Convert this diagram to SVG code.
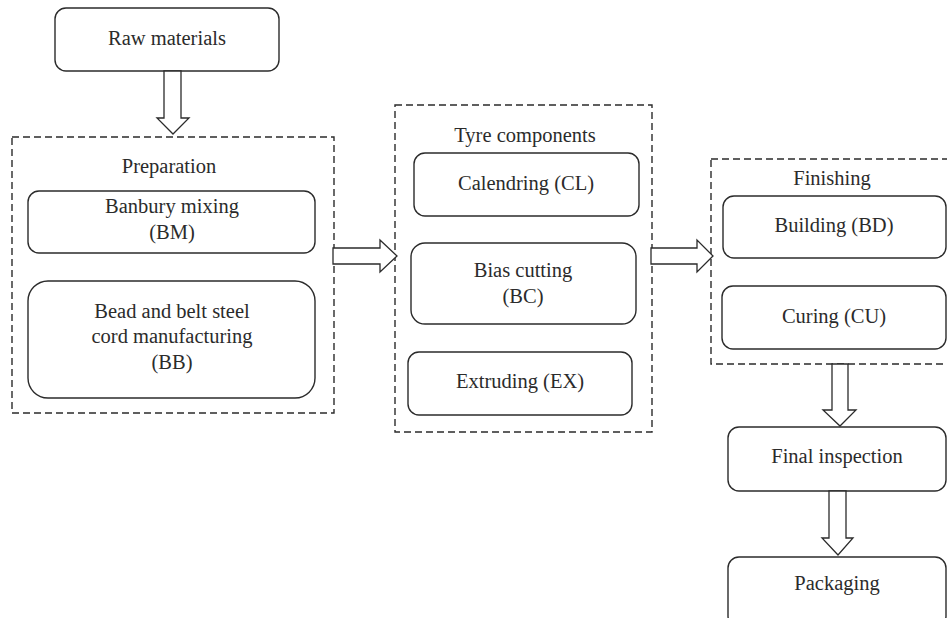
<svg xmlns="http://www.w3.org/2000/svg" width="947" height="618" viewBox="0 0 947 618">
<style>
.box{fill:#fff;stroke:#2b2b2b;stroke-width:1.4}
.grp{fill:none;stroke:#2b2b2b;stroke-width:1.4;stroke-dasharray:7 4}
.arr{fill:#fff;stroke:#2b2b2b;stroke-width:1.3;stroke-linejoin:miter}
.t{font-family:'Liberation Serif','DejaVu Serif',serif;font-size:20.5px;fill:#2b2b2b;text-anchor:middle}
</style>
<rect width="947" height="618" fill="#fff"/>
<g id="group-preparation">
<rect class="grp" x="12" y="137" width="322" height="276"/>
<text class="t" font-family="Liberation Serif, serif" x="169" y="173">Preparation</text>
</g>
<g id="group-tyre-components">
<rect class="grp" x="395" y="105" width="257" height="327"/>
<text class="t" font-family="Liberation Serif, serif" x="525" y="142">Tyre components</text>
</g>
<g id="group-finishing">
<rect class="grp" x="711" y="159" width="250" height="205"/>
<text class="t" font-family="Liberation Serif, serif" x="832" y="185">Finishing</text>
</g>
<g id="node-raw">
<rect class="box" x="55" y="8" width="224" height="63" rx="11"/>
<text class="t" font-family="Liberation Serif, serif" x="167" y="45">Raw materials</text>
</g>
<g id="node-bm">
<rect class="box" x="28" y="191" width="287" height="62" rx="11"/>
<text class="t" font-family="Liberation Serif, serif" x="172" y="213">Banbury mixing</text>
<text class="t" font-family="Liberation Serif, serif" x="172" y="239">(BM)</text>
</g>
<g id="node-bb">
<rect class="box" x="28" y="281" width="287" height="117" rx="20"/>
<text class="t" font-family="Liberation Serif, serif" x="172" y="318">Bead and belt steel</text>
<text class="t" font-family="Liberation Serif, serif" x="172" y="343">cord manufacturing</text>
<text class="t" font-family="Liberation Serif, serif" x="172" y="369">(BB)</text>
</g>
<g id="node-cl">
<rect class="box" x="414" y="153" width="225" height="63" rx="11"/>
<text class="t" font-family="Liberation Serif, serif" x="526" y="190">Calendring (CL)</text>
</g>
<g id="node-bc">
<rect class="box" x="411" y="243" width="225" height="81" rx="14"/>
<text class="t" font-family="Liberation Serif, serif" x="523" y="277">Bias cutting</text>
<text class="t" font-family="Liberation Serif, serif" x="523" y="303">(BC)</text>
</g>
<g id="node-ex">
<rect class="box" x="408" y="352" width="224" height="63" rx="11"/>
<text class="t" font-family="Liberation Serif, serif" x="520" y="388">Extruding (EX)</text>
</g>
<g id="node-bd">
<rect class="box" x="723" y="196" width="223" height="62" rx="11"/>
<text class="t" font-family="Liberation Serif, serif" x="834" y="232">Building (BD)</text>
</g>
<g id="node-cu">
<rect class="box" x="722" y="286" width="224" height="63" rx="11"/>
<text class="t" font-family="Liberation Serif, serif" x="834" y="323">Curing (CU)</text>
</g>
<g id="node-fi">
<rect class="box" x="728" y="427" width="218" height="64" rx="11"/>
<text class="t" font-family="Liberation Serif, serif" x="837" y="463">Final inspection</text>
</g>
<g id="node-pk">
<rect class="box" x="728" y="557" width="218" height="70" rx="11"/>
<text class="t" font-family="Liberation Serif, serif" x="837" y="590">Packaging</text>
</g>
<g id="connectors">
<polygon class="arr" points="164,71 181,71 181,118 189,118 173,134 157,118 164,118"/>
<polygon class="arr" points="333,248 380,248 380,240 397,256 380,272 380,264 333,264"/>
<polygon class="arr" points="651,248 697,248 697,240 713,256 697,272 697,264 651,264"/>
<polygon class="arr" points="832,364 848,364 848,410 856,410 840,426 823,410 832,410"/>
<polygon class="arr" points="829,491 846,491 846,538 853,538 838,555 822,538 829,538"/>
</g>
</svg>
